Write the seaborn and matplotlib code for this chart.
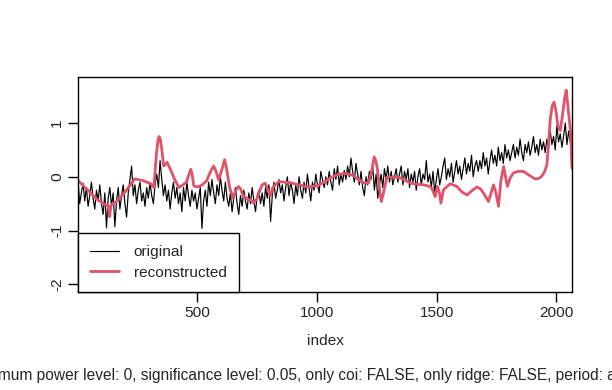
#!/usr/bin/env python3
"""Original vs reconstructed series (wavelet reconstruction plot)."""

import numpy as np
import pandas as pd
import matplotlib
matplotlib.use("Agg")
import matplotlib.pyplot as plt
import seaborn as sns

# original series, every 7th index
orig_index = np.arange(1, 2067, 7)
orig_values = [
    -0.08, -0.5, -0.3, -0.12, -0.45, -0.2, -0.55, -0.35, -0.1, -0.4,
    -0.6, -0.25, -0.45, -0.15, -0.5, -0.7, -0.3, -0.95, -0.4, -0.2,
    -0.55, -0.3, -0.93, -0.45, -0.2, -0.6, -0.35, -0.15, -0.5, -0.75,
    -0.3, -0.05, 0.2, -0.35, -0.15, -0.5, -0.25, -0.1, -0.45, -0.3,
    -0.55, -0.2, -0.4, -0.1, -0.35, -0.5, -0.15, 0.05, -0.2, 0.3,
    -0.05, -0.35, -0.15, -0.45, -0.25, -0.6, -0.3, -0.1, -0.4, -0.2,
    -0.5, -0.3, -0.65, -0.2, -0.45, -0.1, -0.35, -0.55, -0.25, -0.45,
    -0.3, -0.6, -0.4, -0.2, -0.96, -0.45, -0.25, -0.55, -0.1, -0.35,
    -0.05, -0.3, -0.5, -0.15, -0.35, 0.0, -0.25, -0.45, -0.1, -0.4,
    -0.55, -0.3, -0.65, -0.4, -0.2, -0.5, -0.7, -0.35, -0.55, -0.25,
    -0.45, -0.6, -0.3, -0.5, -0.2, -0.45, -0.65, -0.35, -0.25, -0.5,
    -0.3, -0.55, -0.2, -0.4, -0.15, -0.83, -0.35, -0.1, -0.4, -0.25,
    -0.05, -0.3, -0.15, -0.45, -0.2, 0.0, -0.35, -0.1, -0.25, -0.5,
    -0.15, -0.35, 0.0, -0.25, -0.4, -0.1, -0.3, 0.05, -0.2, -0.45,
    -0.1, -0.25, 0.05, -0.15, -0.3, 0.1, -0.05, -0.2, 0.0, -0.15,
    0.1, -0.1, -0.25, 0.15, -0.05, 0.2, -0.15, 0.05, -0.1, 0.12,
    -0.05, 0.2, 0.0, 0.35, 0.1, -0.1, 0.25, 0.05, -0.15, 0.1,
    -0.2, -0.35, 0.0, -0.15, 0.1, -0.05, 0.2, -0.25, 0.05, -0.4,
    -0.15, 0.05, -0.2, 0.15, -0.05, 0.2, -0.1, 0.1, -0.15, 0.0,
    0.15, -0.1, 0.05, 0.2, -0.15, 0.1, -0.05, 0.15, -0.2, 0.05,
    -0.1, 0.1, -0.25, 0.0, 0.15, -0.15, 0.05, -0.05, 0.3, -0.1,
    0.05, -0.2, 0.1, -0.3, -0.05, 0.15, -0.15, 0.0, 0.2, 0.35,
    -0.05, 0.15, 0.0, 0.25, -0.1, 0.1, 0.3, 0.05, 0.2, -0.05,
    0.15, 0.35, 0.05, 0.25, 0.1, 0.4, 0.0, 0.2, 0.3, 0.1,
    0.3, 0.15, 0.45, 0.2, 0.35, 0.05, 0.3, 0.5, 0.25, 0.4,
    0.2, 0.55, 0.3, 0.45, 0.25, 0.6, 0.35, 0.5, 0.3, 0.45,
    0.6, 0.35, 0.55, 0.4, 0.7, 0.45, 0.3, 0.6, 0.45, 0.65,
    0.4, 0.55, 0.75, 0.45, 0.6, 0.4, 0.7, 0.5, 0.65, 0.45,
    0.7, 0.55, 0.85, 0.6, 0.75, 0.5, 0.95, 0.65, 0.8, 0.55,
    0.75, 1.0, 0.6, 0.85, 0.65, 0.5,
]

# reconstructed series, points
rec_index = [
    1, 40, 80, 115, 127, 133, 139, 160, 200, 238, 273, 308, 318, 329, 336,
    340, 345, 350, 359, 366, 373, 387, 405, 423, 440, 454, 465, 472, 478,
    485, 500, 517, 538, 555, 568, 578, 589, 600, 614, 622, 635, 649, 660,
    672, 680, 691, 705, 721, 735, 750, 770, 784, 795, 805, 815, 840, 888,
    925, 958, 1000, 1030, 1056, 1085, 1111, 1135, 1153, 1175, 1195, 1216,
    1228, 1239, 1246, 1253, 1262, 1269, 1278, 1292, 1320, 1348, 1370, 1390,
    1420, 1445, 1465, 1480, 1494, 1504, 1512, 1518, 1529, 1557, 1585, 1605,
    1627, 1650, 1669, 1685, 1700, 1717, 1728, 1738, 1748, 1759, 1768, 1780,
    1788, 1796, 1808, 1821, 1840, 1863, 1890, 1912, 1928, 1940, 1952, 1961,
    1968, 1975, 1983, 1991, 2000, 2007, 2017, 2025, 2035, 2042, 2049, 2055,
    2060, 2066,
]
rec_values = [
    -0.07, -0.24, -0.42, -0.52, -0.54, -0.74, -0.52, -0.47, -0.27, -0.04,
    -0.07, -0.14, -0.2, 0.44, 0.7, 0.75, 0.7, 0.55, 0.2, 0.23, 0.27, 0.14,
    -0.05, -0.2, -0.15, -0.1, 0.05, 0.14, 0.05, -0.17, -0.19, -0.16, -0.08,
    0.1, 0.2, 0.1, -0.06, 0.1, 0.32, 0.15, -0.2, -0.4, -0.25, -0.18, -0.22,
    -0.35, -0.4, -0.43, -0.49, -0.4, -0.15, -0.12, -0.25, -0.35, -0.2,
    -0.09, -0.11, -0.15, -0.19, -0.17, -0.1, -0.02, 0.04, 0.06, 0.05, 0.02,
    -0.06, -0.11, -0.11, 0.1, 0.37, 0.3, 0.13, -0.25, -0.46, -0.3, -0.01,
    0.0, -0.02, -0.07, -0.12, -0.14, -0.15, -0.17, -0.21, -0.37, -0.18,
    -0.3, -0.49, -0.24, -0.13, -0.18, -0.28, -0.34, -0.25, -0.19, -0.23,
    -0.33, -0.46, -0.3, -0.15, -0.3, -0.55, -0.1, 0.19, 0.0, -0.18, -0.02,
    0.07, 0.1, 0.1, 0.02, -0.04, -0.03, 0.01, 0.1, 0.22, 0.6, 1.06, 1.32,
    1.39, 1.2, 0.95, 0.86, 1.1, 1.45, 1.61, 1.3, 1.05, 0.85, 0.16,
]

caption = ("minimum power level: 0, significance level: 0.05, only coi: FALSE, "
           "only ridge: FALSE, period: all")

sns.set_style("white")
plt.rcParams["font.family"] = ["Liberation Sans", "DejaVu Sans"]
FS = 11.1

orig_df = pd.DataFrame({"index": orig_index, "value": orig_values})
rec_df = pd.DataFrame({"index": rec_index, "value": rec_values})

fig = plt.figure(figsize=(6.12, 3.9), dpi=100)
ax = fig.add_axes([0.1275, 0.2513, 0.8071, 0.5513])

sns.lineplot(data=orig_df, x="index", y="value", ax=ax, color="black",
             linewidth=0.85, estimator=None, label="original")
sns.lineplot(data=rec_df, x="index", y="value", ax=ax, color="#DF536B",
             linewidth=2, estimator=None, label="reconstructed")

ax.set_xlim(1, 2066)
ax.set_ylim(-2.144, 1.857)
ax.set_xticks([500, 1000, 1500, 2000])
ax.set_yticks([-2, -1, 0, 1])
ax.set_yticklabels(["-2", "-1", "0", "1"], rotation=90, va="center")
ax.tick_params(direction="out", length=7, width=1, color="black",
               labelsize=FS, pad=3, bottom=True, left=True)
for side in ax.spines.values():
    side.set_color("black")
    side.set_linewidth(1)
ax.set_xlabel("index", fontsize=FS, labelpad=10)
ax.set_ylabel("")

leg = ax.legend(loc="lower left", borderaxespad=0, fancybox=False,
                edgecolor="black", framealpha=1, fontsize=FS,
                handlelength=1.88, handletextpad=0.93, borderpad=0.8,
                labelspacing=0.4)
leg.get_frame().set_linewidth(1)

fig.text(0.484, 0.038, caption, ha="center", va="center", fontsize=11.2)

fig.savefig("out.png", dpi=100)
